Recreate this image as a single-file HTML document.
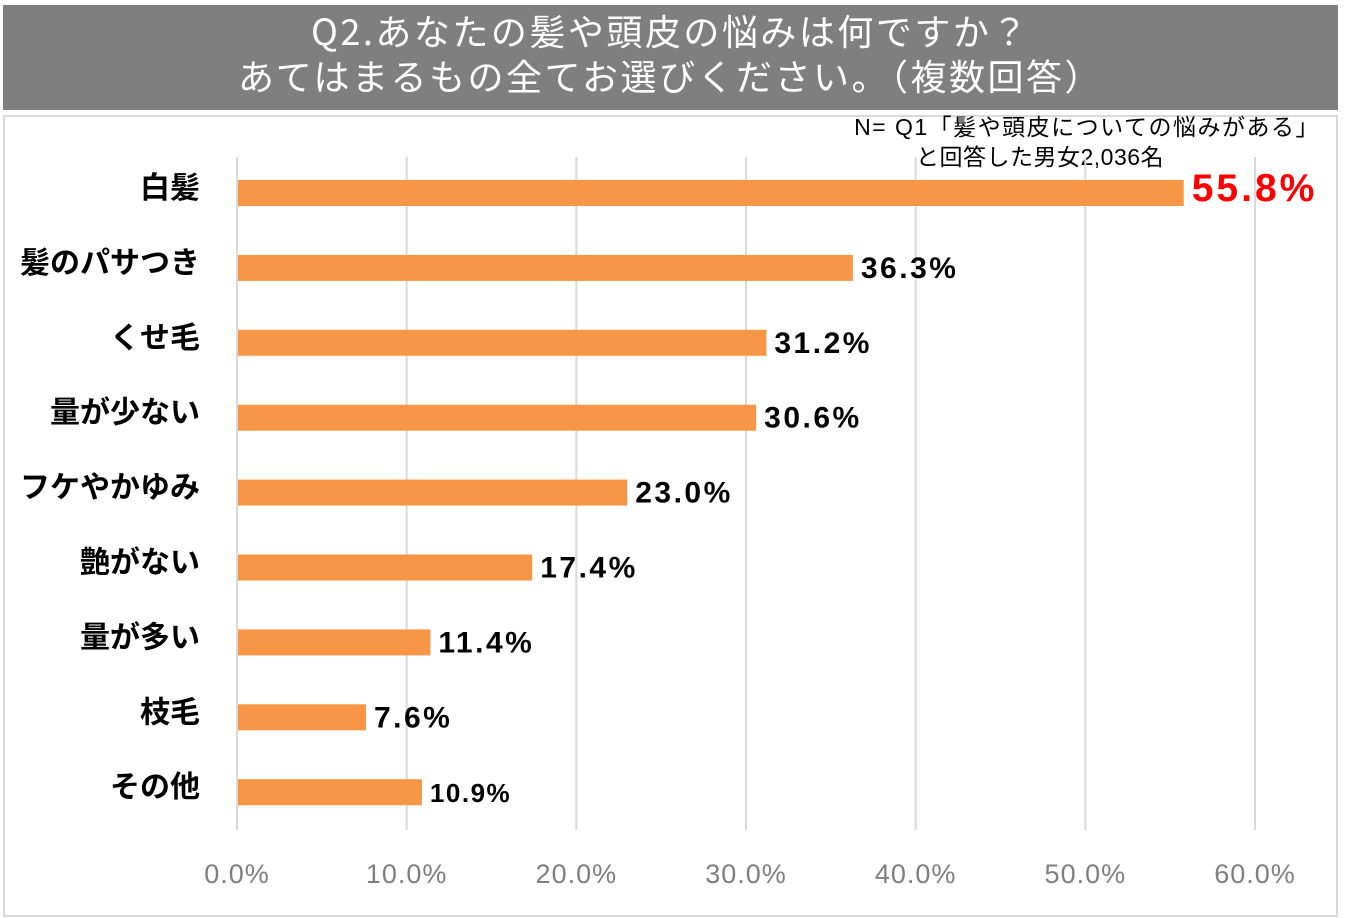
<!DOCTYPE html>
<html><head><meta charset="utf-8">
<style>
html,body{margin:0;padding:0;background:#fff;}
body{width:1354px;height:918px;position:relative;overflow:hidden;font-family:"Liberation Sans","Noto Sans CJK JP",sans-serif;}
#title{position:absolute;left:3px;top:5px;width:1335px;height:105px;background:#7f7f7f;color:#fff;text-align:center;font-size:36px;line-height:45px;padding-top:3px;box-sizing:border-box;font-family:"Noto Sans CJK JP",sans-serif;letter-spacing:2.5px;}
#frame{position:absolute;left:3px;top:115px;width:1331px;height:798px;border:2px solid #d9d9d9;}
</style></head>
<body>
<div id="title">Q2.あなたの髪や頭皮の悩みは何ですか？<br>あてはまるもの全てお選びください。（複数回答）</div>
<div id="frame"></div>
<svg id="chart" width="1354" height="918" style="position:absolute;left:0;top:0">
<text x="1320" y="135" text-anchor="end" font-size="23" letter-spacing="1.5" fill="#000" font-family="'Liberation Sans','Noto Sans CJK JP',sans-serif">N= Q1「髪や頭皮についての悩みがある」</text>
<text x="1040" y="165" text-anchor="middle" font-size="23" letter-spacing="0.5" fill="#000" font-family="'Liberation Sans','Noto Sans CJK JP',sans-serif">と回答した男女2,036名</text>
</svg>
<script>
const categories=["白髪","髪のパサつき","くせ毛","量が少ない","フケやかゆみ","艶がない","量が多い","枝毛","その他"];
const values=[55.8,36.3,31.2,30.6,23.0,17.4,11.4,7.6,10.9];
const ticks=[0,10,20,30,40,50,60];
const svg=document.getElementById('chart');
const NS='http://www.w3.org/2000/svg';
const x0=237,x1=1255,xmax=60;
const X=v=>x0+(v/xmax)*(x1-x0);
const yTop=156,pitch=74.9,barH=26;
const Y=i=>yTop+pitch*i+37;
function mk(t,a){const e=document.createElementNS(NS,t);for(const k in a)e.setAttribute(k,a[k]);svg.appendChild(e);return e;}
ticks.forEach(t=>{
 const l=mk('line',{x1:X(t),x2:X(t),y1:157,y2:830,stroke:'#d9d9d9','stroke-width':2});
 
 
 const tx=mk('text',{x:X(t),y:883,'text-anchor':'middle','font-size':27,'letter-spacing':1,fill:'#7f7f7f','font-family':'Liberation Sans,sans-serif'});
 tx.textContent=t.toFixed(1)+'%';
 
 
});
categories.forEach((c,i)=>{
 const cy=Y(i);
 const r=mk('rect',{x:x0+1,y:cy-barH/2,width:X(values[i])-x0-1,height:barH,fill:'#f79646'});
 
 
 const lb=mk('text',{x:200,y:cy+5,'text-anchor':'end','font-size':30,'font-weight':'bold',fill:'#000','font-family':'Noto Sans CJK JP,sans-serif'});
 lb.textContent=c;
 
 
 const first=i===0;
 const v=mk('text',{x:X(values[i])+8,y:cy+(first?8:10),'font-size':first?39:(i===8?26:30),'letter-spacing':first?3:(i===8?1.5:2.5),'font-weight':'bold',fill:first?'#ff0000':'#000','font-family':'Liberation Sans,sans-serif'});
 v.textContent=values[i].toFixed(1)+'%';
 
 
});
</script>
</body></html>
